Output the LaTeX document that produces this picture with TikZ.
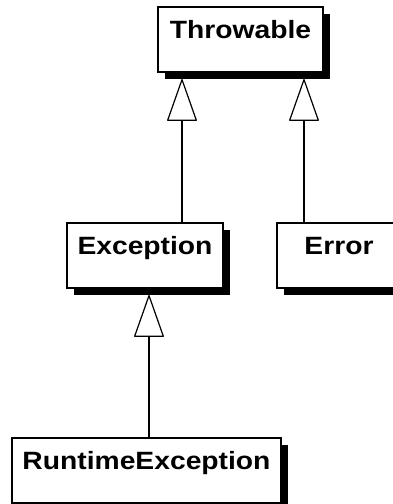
\documentclass[tikz,border=0pt]{standalone}
\usepackage{fontspec}
\setmainfont{Liberation Sans}[FakeStretch=1.13]
\usetikzlibrary{arrows.meta,shadows}
\begin{document}
\begin{tikzpicture}[x=1pt,y=-1pt,
  cls/.style={draw=black, fill=white, line width=1.2pt, rectangle, anchor=north west,
    outer sep=0pt, inner xsep=0pt, inner ysep=0pt,
    text height=31.5pt, text depth=33.5pt,
    font=\fontsize{25}{30}\selectfont\bfseries,
    drop shadow={shadow xshift=7pt, shadow yshift=-7pt, fill=black, opacity=1}},
  inh/.style={line width=1.2pt, line join=round,
    -{Triangle[length=43pt, width=30pt, fill=white, line join=round]},
    shorten >=7pt}
]
\useasboundingbox (0,0) rectangle (393,504);
\node[cls, minimum width=165pt] (thr) at (158,7) {Throwable};
\node[cls, minimum width=156pt] (exc) at (67,223) {Exception};
\node[cls, minimum width=124pt] (err) at (277,223) {Error};
\node[cls, minimum width=269pt] (rt) at (12,438) {RuntimeException};
\path (exc.north west) ++(115,0) coordinate (c1);
\path (err.north west) ++(27,0) coordinate (c2);
\path (rt.north west) ++(137,0) coordinate (c3);
\draw[inh] (c1) -- (c1 |- thr.south);
\draw[inh] (c2) -- (c2 |- thr.south);
\draw[inh] (c3) -- (c3 |- exc.south);
\end{tikzpicture}
\end{document}
